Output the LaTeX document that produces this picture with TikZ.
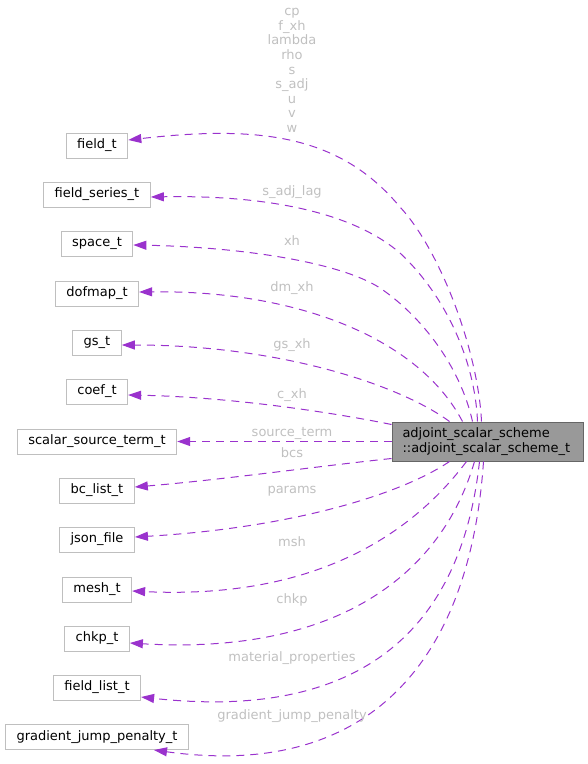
\documentclass[tikz,border=0pt]{standalone}
\usepackage{fontspec}
\setmainfont{DejaVu Sans}
\usetikzlibrary{arrows.meta,calc}
\definecolor{edgec}{HTML}{9A32CD}
\definecolor{lblc}{HTML}{C0C0C0}
\definecolor{boxc}{HTML}{BFBFBF}
\definecolor{mainfill}{HTML}{999999}
\definecolor{mainbord}{HTML}{666666}
\begin{document}
\begin{tikzpicture}[x=1pt,y=-1pt,
  font=\fontsize{13}{15}\selectfont,
  cls/.style={draw=boxc, line width=1pt, minimum height=25pt, inner xsep=11pt, inner ysep=0pt, fill=white},
  mainbox/.style={draw=mainbord, fill=mainfill, line width=1pt, minimum height=39pt, inner xsep=10.5pt, inner ysep=0pt, text width=170pt, align=left},
  rel/.style={draw=edgec, line width=1pt, dash pattern=on 8pt off 6pt, -{Triangle[length=13pt,width=9pt]}},
  lbl/.style={text=lblc, inner sep=0pt}
]
\useasboundingbox (0,0) rectangle (588,764);

% class nodes
\node[cls] (ft) at (97,145.5) {field\_t};
\node[cls] (fs) at (97,194.5) {field\_series\_t};
\node[cls] (sp) at (97,243.5) {space\_t};
\node[cls] (dm) at (97,293.5) {dofmap\_t};
\node[cls] (gs) at (97,342.5) {gs\_t};
\node[cls] (cf) at (97,391.5) {coef\_t};
\node[cls] (sst) at (97,441.5) {scalar\_source\_term\_t};
\node[cls] (bc) at (97,490.5) {bc\_list\_t};
\node[cls] (js) at (97,539.5) {json\_file};
\node[cls] (ms) at (97,589.5) {mesh\_t};
\node[cls] (ck) at (97,638.5) {chkp\_t};
\node[cls] (fl) at (97,687.5) {field\_list\_t};
\node[cls] (gj) at (97,737) {gradient\_jump\_penalty\_t};

\node[mainbox] (m) at (487.5,441.5) {adjoint\_scalar\_scheme\\::adjoint\_scalar\_scheme\_t};

% start points on the main node
\coordinate (sA) at ($(m.north west)+(90,0)$);
\coordinate (sB) at ($(m.north west)+(86,0)$);
\coordinate (sC) at ($(m.north west)+(81,0)$);
\coordinate (sD) at ($(m.north west)+(71,0)$);
\coordinate (sE) at ($(m.north west)+(58,0)$);
\coordinate (sF) at ($(m.north west)+(0,3)$);
\coordinate (sH) at ($(m.south west)+(0,-3)$);
\coordinate (sI) at ($(m.south west)+(58,0)$);
\coordinate (sJ) at ($(m.south west)+(75,0)$);
\coordinate (sK) at ($(m.south west)+(83,0)$);
\coordinate (sL) at ($(m.south west)+(88,0)$);
\coordinate (sM) at ($(m.south west)+(92,0)$);

% edges
\draw[rel] (sA) .. controls (478,350) and (440,250) .. (400,207) .. controls (340,135) and (260,125) .. ($(ft.east)+(0,-5.5)$);
\draw[rel] (sB) .. controls (475,360) and (445,295) .. (400,253) .. controls (350,210) and (260,195) .. ($(fs.east)+(0,2.5)$);
\draw[rel] (sC) .. controls (460,365) and (420,315) .. (380,288) .. controls (340,262) and (240,247) .. ($(sp.east)+(0,1.5)$);
\draw[rel] (sD) .. controls (420,340) and (300,290) .. ($(dm.east)+(0,-1.5)$);
\draw[rel] (sE) .. controls (400,385) and (280,345) .. ($(gs.east)+(0,2.5)$);
\draw[rel] (sF) .. controls (330,412) and (230,397) .. ($(cf.east)+(0,3.5)$);
\draw[rel] (m.west) -- (sst.east);
\draw[rel] (sH) .. controls (320,466) and (220,480) .. ($(bc.east)+(0,-3.5)$);
\draw[rel] (sI) .. controls (400,495) and (290,528) .. ($(js.east)+(0,-2.5)$);
\draw[rel] (sJ) .. controls (415,530) and (320,600) .. ($(ms.east)+(0,1.5)$);
\draw[rel] (sK) .. controls (440,580) and (330,655) .. ($(ck.east)+(0,4.5)$);
\draw[rel] (sL) .. controls (460,640) and (350,720) .. ($(fl.east)+(0,9.5)$);
\draw[rel] (sM) .. controls (470,660) and (370,780) .. ($(gj.south)+(57,0)$);

% labels
\foreach \t [count=\i] in {cp,f\_xh,lambda,rho,s,s\_adj,u,v,w}
  \node[lbl,anchor=base] (stk\i) at (292,{15.7+14.6*(\i-1)}) {\t};
\node[lbl] (l2) at (292,192) {s\_adj\_lag};
\node[lbl] (l3) at (292,241) {xh};
\node[lbl] (l4) at (292,288.5) {dm\_xh};
\node[lbl] (l5) at (292,345) {gs\_xh};
\node[lbl] (l6) at (292,395.5) {c\_xh};
\node[lbl] (l7) at (292,433) {source\_term};
\node[lbl] (l8) at (292,452.5) {bcs};
\node[lbl] (l9) at (292,491.5) {params};
\node[lbl] (l10) at (292,541.5) {msh};
\node[lbl] (l11) at (292,599.5) {chkp};
\node[lbl] (l12) at (292,658.5) {material\_properties};
\node[lbl] (l13) at (292,716) {gradient\_jump\_penalty};
\end{tikzpicture}
\end{document}
